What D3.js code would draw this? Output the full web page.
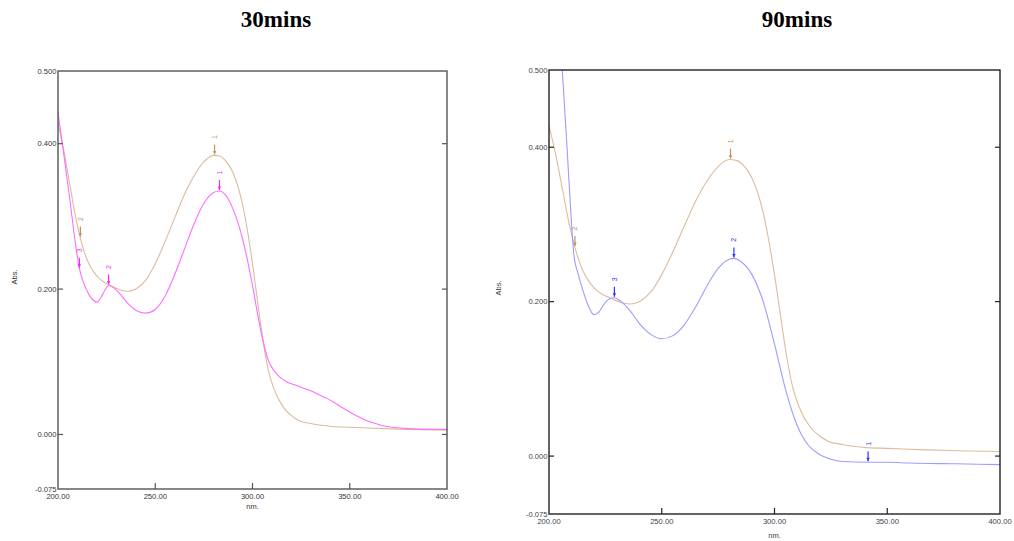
<!DOCTYPE html>
<html>
<head>
<meta charset="utf-8">
<script src="https://cdn.jsdelivr.net/npm/d3@7"></script>
<style>
  html, body { margin: 0; padding: 0; background: #fff; }
  svg { display: block; }
</style>
</head>
<body>
<svg id="chart" width="1014" height="541"></svg>
<script>
// UV-Vis absorbance spectra, 30 min and 90 min samples
const panelTitles = ["30mins", "90mins"];
const xTickValues = [200, 250, 300, 350, 400];
const yTickValues = [0.5, 0.4, 0.2, 0.0, -0.075];
const yTickLabels = ["0.500", "0.400", "0.200", "0.000", "-0.075"];

// reference spectrum (same in both panels)
const refNm  = [200, 203, 206, 209, 212, 215, 218, 221, 224, 227, 230, 233, 236, 240, 245, 250, 255, 260, 265, 270, 275, 280, 283, 286, 290, 295, 300, 303, 305.4, 308, 311, 316, 320, 324, 330, 341, 350, 367, 380, 400];
const refAbs = [0.428, 0.39, 0.345, 0.300, 0.265, 0.240, 0.225, 0.215, 0.209, 0.205, 0.201, 0.198, 0.197, 0.200, 0.212, 0.235, 0.265, 0.298, 0.330, 0.356, 0.375, 0.384, 0.383, 0.377, 0.360, 0.315, 0.235, 0.175, 0.129, 0.090, 0.063, 0.037, 0.026, 0.019, 0.015, 0.011, 0.010, 0.008, 0.007, 0.006];

// 30 min sample
const s30Nm  = [200, 203, 206, 209, 211, 213, 216, 218, 220, 222, 224, 226, 228, 232, 236, 240, 245, 250, 255, 260, 265, 270, 275, 280, 283, 286, 290, 295, 300, 303, 305.4, 308, 311, 314, 318, 322, 326, 330, 334, 338, 342, 346, 350, 354, 358, 362, 367, 372, 380, 390, 400];
const s30Abs = [0.443, 0.385, 0.325, 0.262, 0.228, 0.210, 0.192, 0.185, 0.182, 0.188, 0.198, 0.205, 0.203, 0.193, 0.180, 0.171, 0.167, 0.172, 0.190, 0.220, 0.255, 0.290, 0.318, 0.333, 0.335, 0.330, 0.310, 0.268, 0.205, 0.160, 0.129, 0.103, 0.088, 0.079, 0.072, 0.068, 0.064, 0.060, 0.055, 0.050, 0.044, 0.037, 0.031, 0.025, 0.020, 0.016, 0.012, 0.010, 0.008, 0.007, 0.007];

// 90 min sample
const s90Nm  = [200, 203, 206, 208, 210, 211, 213, 215, 217, 220, 222, 224, 226, 229, 232, 236, 240, 245, 250, 255, 260, 265, 270, 275, 280, 282, 285, 290, 295, 300, 305, 310, 315, 320, 325, 330, 341.5, 350, 360, 380, 400];
const s90Abs = [0.75, 0.62, 0.495, 0.40, 0.30, 0.262, 0.235, 0.215, 0.198, 0.183, 0.186, 0.195, 0.202, 0.205, 0.200, 0.188, 0.172, 0.158, 0.152, 0.156, 0.170, 0.193, 0.220, 0.243, 0.255, 0.256, 0.252, 0.235, 0.200, 0.145, 0.085, 0.040, 0.014, 0.002, -0.004, -0.007, -0.008, -0.008, -0.009, -0.010, -0.011];

// peak-pick positions (nm) and their index labels
const refPeakNm = [280.5, 211.5];
const refPeakLabels = ["1", "2"];
const s30PeakNm = [283, 226, 211];
const s30PeakLabels = ["1", "2", "3"];
const s90PeakNm = [282, 341.5, 229];
const s90PeakLabels = ["2", "1", "3"];

const colors = {
  ref: "#dcbc9c", refMark: "#c8905a",
  s30: "#ff6cff", s30Mark: "#f030f0",
  s90: "#9c9cff", s90Mark: "#3333ff"
};

const panels = [
  { title: panelTitles[0], titleX: 276, x0: 58, x1: 447, y0: 71, y1: 489, axis: "#555", tickColor: "#333",
    absX: 14, absY: 277, nmY: 509,
    series: [
      { nm: refNm, abs: refAbs, color: colors.ref, mark: colors.refMark, peaks: refPeakNm, labels: refPeakLabels },
      { nm: s30Nm, abs: s30Abs, color: colors.s30, mark: colors.s30Mark, peaks: s30PeakNm, labels: s30PeakLabels }
    ] },
  { title: panelTitles[1], titleX: 797, x0: 549, x1: 1000, y0: 70, y1: 514, axis: "#222", tickColor: "#3c4250",
    absX: 498, absY: 288, nmY: 538,
    series: [
      { nm: refNm, abs: refAbs, color: colors.ref, mark: colors.refMark, peaks: refPeakNm, labels: refPeakLabels },
      { nm: s90Nm, abs: s90Abs, color: colors.s90, mark: colors.s90Mark, peaks: s90PeakNm, labels: s90PeakLabels }
    ] }
];

const svg = d3.select("#chart");

function interp(nmArr, absArr, x) {
  const i = d3.bisectLeft(nmArr, x);
  if (i <= 0) return absArr[0];
  if (i >= nmArr.length) return absArr[absArr.length - 1];
  const t = (x - nmArr[i - 1]) / (nmArr[i] - nmArr[i - 1]);
  return absArr[i - 1] + t * (absArr[i] - absArr[i - 1]);
}

panels.forEach((p, pi) => {
  const x = d3.scaleLinear().domain([200, 400]).range([p.x0, p.x1]);
  const y = d3.scaleLinear().domain([-0.075, 0.5]).range([p.y1, p.y0]);
  const g = svg.append("g");

  // title
  g.append("text")
    .attr("x", p.titleX).attr("y", 27)
    .attr("text-anchor", "middle")
    .attr("font-family", "'Liberation Serif', 'Times New Roman', serif")
    .attr("font-weight", "bold").attr("font-size", 23)
    .text(p.title);

  // clip for curves
  const clipId = "clip" + pi;
  g.append("clipPath").attr("id", clipId)
    .append("rect")
    .attr("x", p.x0).attr("y", p.y0)
    .attr("width", p.x1 - p.x0).attr("height", p.y1 - p.y0);

  const line = d3.line()
    .x(d => x(d[0])).y(d => y(d[1]))
    .curve(d3.curveMonotoneX);

  const curves = g.append("g").attr("clip-path", `url(#${clipId})`);
  p.series.forEach(s => {
    const pts = s.nm.map((v, i) => [v, s.abs[i]]);
    curves.append("path")
      .attr("d", line(pts))
      .attr("fill", "none")
      .attr("stroke", s.color)
      .attr("stroke-width", 1.1);
  });

  // peak markers: short arrow down to the curve with rotated index label
  p.series.forEach(s => {
    s.peaks.forEach((pk, i) => {
      const px = x(pk);
      const py = y(interp(s.nm, s.abs, pk));
      const mg = g.append("g");
      mg.append("line")
        .attr("x1", px).attr("x2", px)
        .attr("y1", py - 11).attr("y2", py - 1)
        .attr("stroke", s.mark).attr("stroke-width", 1.2);
      mg.append("path")
        .attr("d", `M${px - 1.7},${py - 4.5}L${px + 1.7},${py - 4.5}L${px},${py - 1}Z`)
        .attr("fill", s.mark);
      mg.append("text")
        .attr("transform", `translate(${px + 2.5},${py - 18.5}) rotate(-90)`)
        .attr("text-anchor", "middle")
        .attr("font-family", "'Liberation Sans', Arial, sans-serif")
        .attr("font-size", 7)
        .attr("fill", s.mark)
        .text(s.labels[i]);
    });
  });

  // frame
  g.append("rect")
    .attr("x", p.x0).attr("y", p.y0)
    .attr("width", p.x1 - p.x0).attr("height", p.y1 - p.y0)
    .attr("fill", "none").attr("stroke", p.axis).attr("stroke-width", 1.4);

  // inner ticks
  const innerX = xTickValues.slice(1, -1);
  const innerY = yTickValues.slice(1, -1);
  innerX.forEach(v => {
    g.append("line").attr("x1", x(v)).attr("x2", x(v))
      .attr("y1", p.y1).attr("y2", p.y1 - 6)
      .attr("stroke", p.axis).attr("stroke-width", 1.2);
  });
  innerY.forEach(v => {
    g.append("line").attr("x1", p.x0).attr("x2", p.x0 + 5)
      .attr("y1", y(v)).attr("y2", y(v))
      .attr("stroke", p.axis).attr("stroke-width", 1.2);
    g.append("line").attr("x1", p.x1).attr("x2", p.x1 - 5)
      .attr("y1", y(v)).attr("y2", y(v))
      .attr("stroke", p.axis).attr("stroke-width", 1.2);
  });

  // tick labels
  const font = "'Liberation Sans', Arial, sans-serif";
  yTickValues.forEach((v, i) => {
    g.append("text")
      .attr("x", p.x0 - 1.5).attr("y", y(v) + 2.8)
      .attr("text-anchor", "end")
      .attr("font-family", font).attr("font-size", 7.6)
      .attr("fill", p.tickColor)
      .text(yTickLabels[i]);
  });
  xTickValues.forEach(v => {
    g.append("text")
      .attr("x", x(v)).attr("y", p.y1 + 10)
      .attr("text-anchor", "middle")
      .attr("font-family", font).attr("font-size", 7.6)
      .attr("fill", p.tickColor)
      .text(d3.format(".2f")(v));
  });

  // axis titles
  g.append("text")
    .attr("transform", `translate(${p.absX + 2.5},${p.absY}) rotate(-90)`)
    .attr("text-anchor", "middle")
    .attr("font-family", font).attr("font-size", 7.5)
    .attr("fill", p.tickColor)
    .text("Abs.");
  g.append("text")
    .attr("x", x(300)).attr("y", p.nmY)
    .attr("text-anchor", "middle")
    .attr("font-family", font).attr("font-size", 7.5)
    .attr("fill", p.tickColor)
    .text("nm.");
});
</script>
</body>
</html>
